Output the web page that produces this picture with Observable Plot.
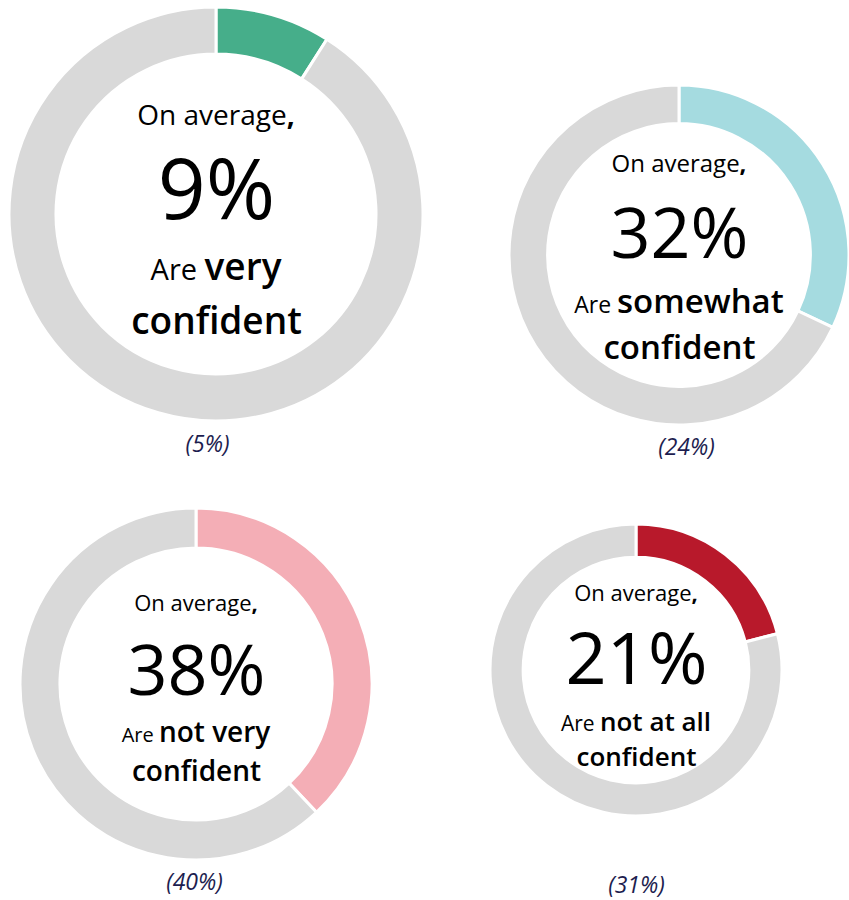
<!DOCTYPE html>
<html>
<head>
<meta charset="utf-8">
<script src="https://cdn.jsdelivr.net/npm/d3@7"></script>
<script src="https://cdn.jsdelivr.net/npm/@observablehq/plot@0.6"></script>
<style>
  html, body { margin: 0; padding: 0; background: #fff; }
  #chart { position: relative; width: 849px; height: 900px; overflow: hidden; font-family: "Open Sans", sans-serif; }
  #chart svg { position: absolute; overflow: visible; max-width: none; }
</style>
</head>
<body>
<div id="chart"></div>
<script>
// ---- data ----
const categories = ["very confident", "somewhat confident", "not very confident", "not at all confident"];
const averages = [9, 32, 38, 21];          // "On average, X%"
const priorValues = [5, 24, 40, 31];       // values in parentheses
const sliceColors = ["#46ae8a", "#a5dbe0", "#f4aeb6", "#b8192b"];
const restColor = "#d9d9d9";
const leadText = "On average";
const verbText = "Are";

// ---- layout (pixels) ----
const FONT = "'Open Sans', sans-serif";
const innerRatio = 0.773;
const layout = [
  {cx: 216, cy: 214, r: 207, avgDy: -89, avgSize: 28, bigDy: 4,  bigSize: 84, l1Dy: 66, areSize: 29, boldSize: 37, l2Dy: 119, labelDx: -9, labelDy: 237},
  {cx: 679, cy: 255, r: 170, avgDy: -83, avgSize: 24, bigDy: 2,  bigSize: 70, l1Dy: 58, areSize: 23, boldSize: 33, l2Dy: 103, labelDx: 7,  labelDy: 199},
  {cx: 196, cy: 684, r: 176, avgDy: -73, avgSize: 22, bigDy: 10, bigSize: 70, l1Dy: 58, areSize: 20, boldSize: 28, l2Dy: 96,  labelDx: -2, labelDy: 205},
  {cx: 636, cy: 670, r: 146, avgDy: -69, avgSize: 22, bigDy: 13, bigSize: 72, l1Dy: 61, areSize: 21, boldSize: 26, l2Dy: 95,  labelDx: 0,  labelDy: 222}
];

const container = document.getElementById("chart");
const angle = d3.scaleLinear([0, 100], [0, 2 * Math.PI]);

categories.forEach((cat, i) => {
  const L = layout[i], R = L.r, pad = 4;
  const avg = averages[i];
  const h = pad + R + L.labelDy + 8;
  const segments = [
    {seg: "share", start: 0, end: avg, color: sliceColors[i]},
    {seg: "rest", start: avg, end: 100, color: restColor}
  ];
  const words = cat.split(" ");
  const lastWord = words.pop();           // "confident"
  const emphasis = words.join(" ");       // "very", "somewhat", ...

  // donut ring drawn through the plot's x/y scales
  const donut = (index, scales) => {
    const x0 = scales.x(0), y0 = scales.y(0);
    const ro = Math.abs(scales.x(R) - x0), ri = ro * innerRatio;
    const arc = d3.arc().innerRadius(ri).outerRadius(ro);
    const g = d3.create("svg:g").attr("transform", `translate(${x0},${y0})`);
    g.selectAll("path").data(segments).join("path")
      .attr("d", d => arc({startAngle: angle(d.start), endAngle: angle(d.end)}))
      .attr("fill", d => d.color)
      .attr("stroke", "#fff")
      .attr("stroke-width", 3);
    return g.node();
  };

  // mixed-weight centre text lines
  const richText = (index, scales) => {
    const x0 = scales.x(0);
    const g = d3.create("svg:g")
      .attr("font-family", FONT)
      .attr("text-anchor", "middle")
      .attr("fill", "#000");
    const t1 = g.append("text").attr("x", x0).attr("y", scales.y(L.avgDy)).attr("font-size", L.avgSize);
    t1.append("tspan").text(leadText);
    t1.append("tspan").attr("font-weight", 700).text(",");
    const t2 = g.append("text").attr("x", x0).attr("y", scales.y(L.l1Dy));
    t2.append("tspan").attr("font-size", L.areSize).text(verbText + " ");
    t2.append("tspan").attr("font-size", L.boldSize).attr("font-weight", 600).text(emphasis);
    return g.node();
  };

  const svg = Plot.plot({
    width: 2 * R + 2 * pad,
    height: h,
    marginLeft: pad, marginRight: pad, marginTop: pad,
    marginBottom: h - pad - 2 * R,
    style: {background: "transparent", overflow: "visible"},
    x: {domain: [-R, R], axis: null},
    y: {domain: [R, -R], axis: null},
    marks: [
      donut,
      Plot.text([{x: 0, y: L.bigDy, t: avg + "%"}], {
        x: "x", y: "y", text: "t", lineAnchor: "bottom",
        fontSize: L.bigSize, fontFamily: FONT, fill: "#000"
      }),
      richText,
      Plot.text([{x: 0, y: L.l2Dy, t: lastWord}], {
        x: "x", y: "y", text: "t", lineAnchor: "bottom",
        fontSize: L.boldSize, fontWeight: 600, fontFamily: FONT, fill: "#000"
      }),
      Plot.text([{x: L.labelDx, y: L.labelDy, t: `(${priorValues[i]}%)`}], {
        x: "x", y: "y", text: "t", lineAnchor: "bottom",
        fontSize: 23, fontStyle: "italic", fontFamily: FONT, fill: "#1d1d4f"
      })
    ]
  });
  svg.style.left = (L.cx - R - pad) + "px";
  svg.style.top = (L.cy - R - pad) + "px";
  container.append(svg);
});
</script>
</body>
</html>
